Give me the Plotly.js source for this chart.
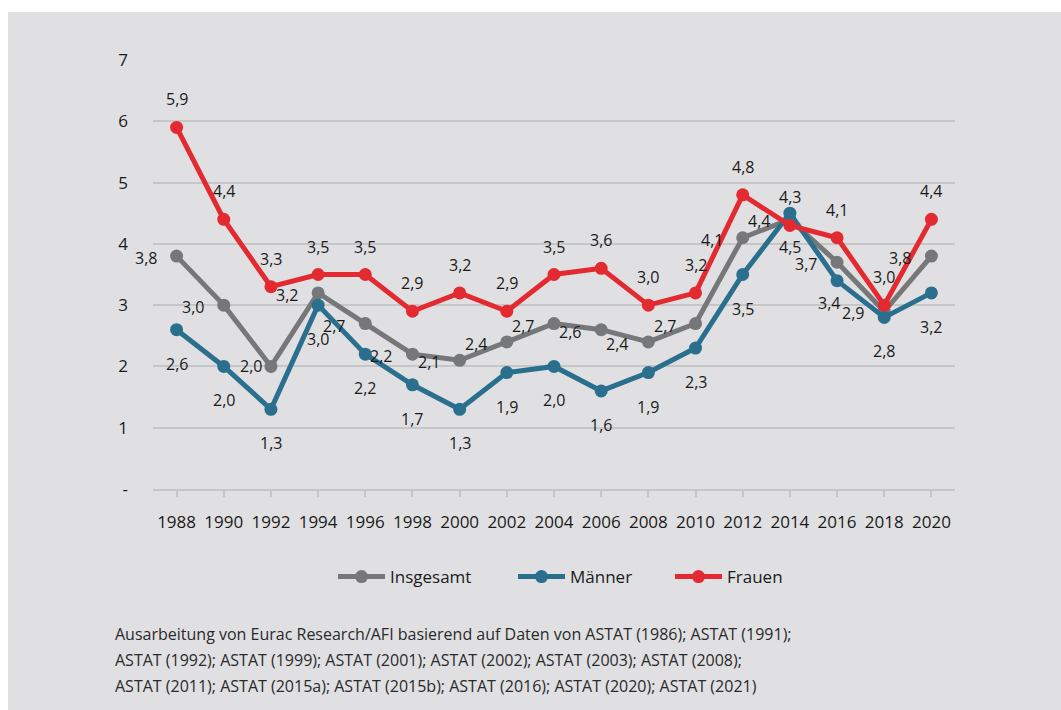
<!DOCTYPE html>
<html>
<head>
<meta charset="utf-8">
<script src="https://cdn.plot.ly/plotly-3.0.1.min.js"></script>
<style>
  html, body { margin: 0; padding: 0; background: #ffffff; width: 1061px; height: 710px; overflow: hidden; }
  #chart { position: absolute; left: 8px; top: 12px; width: 1053px; height: 698px; }
</style>
</head>
<body>
<div id="chart"></div>
<script>
const years = ['1988','1990','1992','1994','1996','1998','2000','2002','2004','2006','2008','2010','2012','2014','2016','2018','2020'];
const insgesamt = [3.8, 3.0, 2.0, 3.2, 2.7, 2.2, 2.1, 2.4, 2.7, 2.6, 2.4, 2.7, 4.1, 4.4, 3.7, 2.9, 3.8];
const maenner   = [2.6, 2.0, 1.3, 3.0, 2.2, 1.7, 1.3, 1.9, 2.0, 1.6, 1.9, 2.3, 3.5, 4.5, 3.4, 2.8, 3.2];
const frauen    = [5.9, 4.4, 3.3, 3.5, 3.5, 2.9, 3.2, 2.9, 3.5, 3.6, 3.0, 3.2, 4.8, 4.3, 4.1, 3.0, 4.4];
const yTickVals = [0, 1, 2, 3, 4, 5, 6, 7];
const yTickText = ['-', '1', '2', '3', '4', '5', '6', '7'];
const seriesNames = ['Insgesamt', 'Männer', 'Frauen'];
const sourceLines = [
  'Ausarbeitung von Eurac Research/AFI basierend auf Daten von ASTAT (1986); ASTAT (1991);',
  'ASTAT (1992); ASTAT (1999); ASTAT (2001); ASTAT (2002); ASTAT (2003); ASTAT (2008);',
  'ASTAT (2011); ASTAT (2015a); ASTAT (2015b); ASTAT (2016); ASTAT (2020); ASTAT (2021)'
];

const FONT = '"Open Sans", "Noto Sans", sans-serif';
const colors = ['#767779', '#2b6f8f', '#e42a31'];
const values = [insgesamt, maenner, frauen];
const legendIds = ['legend', 'legend2', 'legend3'];
// legend left edges (absolute px in the 1061 wide page)
const legendLeft = [338, 518, 675];

const traces = values.map((v, i) => ({
  type: 'scatter',
  mode: 'lines+markers',
  name: seriesNames[i],
  legend: legendIds[i],
  x: years,
  y: v,
  line: { color: colors[i], width: 5 },
  marker: { color: colors[i], size: 13 },
  hoverinfo: 'skip'
}));

const fmt = v => v.toFixed(1).replace('.', ',');
const annotations = [];
// label placement per series: gray left, blue below, red above
const shifts = [
  { xshift: -31, yshift: -2 },
  { xshift: 0, yshift: -34 },
  { xshift: 0, yshift: 28 }
];
// individually nudged labels, as in the original
const nudges = { '0-2': { xshift: -20, yshift: 0 }, '1-14': { xshift: -8, yshift: -22 } };
values.forEach((v, i) => {
  v.forEach((val, j) => {
    const s = nudges[i + '-' + j] || shifts[i];
    annotations.push({
      x: j, y: val, xref: 'x', yref: 'y',
      text: fmt(val), showarrow: false,
      xanchor: 'center', yanchor: 'middle',
      xshift: s.xshift, yshift: s.yshift,
      font: { family: FONT, size: 16, color: '#1a1a1a' }
    });
  });
});
sourceLines.forEach((t, k) => {
  annotations.push({
    x: (105 - 145) / 802, y: -(634 - 12 - 477 + k * 26) / 429,
    xref: 'paper', yref: 'paper', text: t, showarrow: false,
    xanchor: 'left', yanchor: 'middle',
    font: { family: FONT, size: 16, color: '#2a2a2a' }
  });
});

const layout = {
  width: 1053, height: 698,
  paper_bgcolor: '#e0e0e2',
  plot_bgcolor: '#e0e0e2',
  margin: { l: 145, r: 106, t: 48, b: 221 },
  font: { family: FONT, size: 16, color: '#1a1a1a' },
  showlegend: true,
  xaxis: {
    type: 'category', range: [-0.5, 16.5],
    showgrid: false, zeroline: false,
    showline: true, linecolor: '#c6c6c8', linewidth: 2,
    ticks: 'outside', ticklen: 6, tickwidth: 2, tickcolor: '#c6c6c8',
    ticklabelstandoff: 11,
    tickfont: { family: FONT, size: 17, color: '#1a1a1a' },
    fixedrange: true
  },
  yaxis: {
    range: [0, 7], tickvals: yTickVals, ticktext: yTickText,
    showgrid: true, gridcolor: '#c6c6c8', gridwidth: 2,
    zeroline: false, showline: false, ticks: '',
    ticklabelstandoff: 24,
    tickfont: { family: FONT, size: 17, color: '#1a1a1a' },
    fixedrange: true
  },
  annotations: annotations
};
legendIds.forEach((id, i) => {
  layout[id] = {
    orientation: 'h',
    x: (legendLeft[i] - 8 - 145 - 5) / 802, xanchor: 'left',
    y: -(577 - 12 - 477) / 429, yanchor: 'middle',
    font: { family: FONT, size: 17, color: '#1a1a1a' },
    bgcolor: 'rgba(0,0,0,0)', borderwidth: 0, itemwidth: 47
  };
});

Plotly.newPlot('chart', traces, layout, { displayModeBar: false, staticPlot: true });
</script>
</body>
</html>
